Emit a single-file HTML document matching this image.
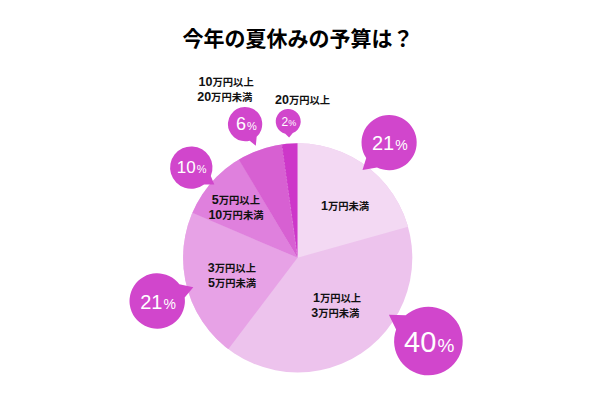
<!DOCTYPE html>
<html lang="ja"><head><meta charset="utf-8"><title>今年の夏休みの予算は？</title>
<style>
html,body{margin:0;padding:0;background:#fff;font-family:"Liberation Sans",sans-serif}
#chart{display:block;width:600px;height:400px;overflow:hidden}
</style>
</head><body>
<svg id="chart" width="600" height="400" viewBox="0 0 600 400" role="img" aria-label="今年の夏休みの予算は？">
<rect width="600" height="400" fill="#fff"/>
<defs><clipPath id="pc"><circle cx="297.7" cy="257.9" r="114.6"/></clipPath></defs>
<circle cx="297.7" cy="257.9" r="114.6" fill="#edc3ed"/>
<g clip-path="url(#pc)"><path fill="#f3d9f3" d="M297.5 257.7L297.5 140.1A117.6 117.6 0 0 1 410.75 226.02Z"/><path fill="#e7a2e6" d="M297.5 257.7L226.56 351.5A117.6 117.6 0 0 1 189.49 211.18Z"/><path fill="#df80dd" d="M297.5 257.7L189.33 211.56A117.6 117.6 0 0 1 237.46 156.58Z"/><path fill="#d760d2" d="M297.5 257.7L237.11 156.79A117.6 117.6 0 0 1 281.54 141.19Z"/><path fill="#cd37c9" d="M297.5 257.7L281.13 141.24A117.6 117.6 0 0 1 297.5 140.1Z"/><path d="M297.5 257.7L281.34 141.22" stroke="#eab0e6" stroke-width="0.45" stroke-dasharray="2.2 1.3" opacity="0.75" fill="none"/></g>
<path fill="#d146cc" d="M362.5 170.1L366.22 158.03A27.6 27.6 0 1 1 377 167.41Z"/>
<path fill="#d146cc" d="M388.9 314.8L405.63 315.35A34.3 34.3 0 1 1 396.13 329.38Z"/>
<path fill="#d146cc" d="M193.3 287.2L184.68 297.48A27.7 27.7 0 1 1 179.35 284.37Z"/>
<path fill="#d146cc" d="M214.3 184.6L204.06 184.53A21.2 21.2 0 1 1 210.81 175.88Z"/>
<path fill="#d146cc" d="M255.8 145.8L249.68 140.63A17.15 17.15 0 1 1 256.66 136.76Z"/>
<path fill="#d146cc" d="M289.1 137.4L285.24 133.64A12.5 12.5 0 1 1 292.8 133.12Z"/>
<g font-family="'Liberation Sans', 'Noto Sans CJK JP', sans-serif">
<text x="298" y="45.6" font-size="21" font-weight="bold" fill="#000" text-anchor="middle">今年の夏休みの予算は？</text>
<g fill="#111" font-size="10.3" font-weight="bold" text-anchor="start">
<text x="198.6" y="85.8"><tspan font-size="12.5">10</tspan>万円以上</text>
<text x="197.2" y="100.6"><tspan font-size="12.5">20</tspan>万円未満</text>
<text x="275" y="104.4"><tspan font-size="12.5">20</tspan>万円以上</text>
<text x="211.8" y="204"><tspan font-size="12.5">5</tspan>万円以上</text>
<text x="208.4" y="218.8"><tspan font-size="12.5">10</tspan>万円未満</text>
<text x="321" y="210"><tspan font-size="12.5">1</tspan>万円未満</text>
<text x="313" y="302.2"><tspan font-size="12.5">1</tspan>万円以上</text>
<text x="311.2" y="317"><tspan font-size="12.5">3</tspan>万円未満</text>
<text x="207.8" y="272.3"><tspan font-size="12.5">3</tspan>万円以上</text>
<text x="208" y="287.1"><tspan font-size="12.5">5</tspan>万円未満</text>
</g>
<g fill="#fff" text-anchor="middle">
<text x="389.8" y="149.8" font-size="20">21<tspan font-size="14" dx="1">%</tspan></text>
<text x="429.2" y="351.7" font-size="29">40<tspan font-size="19" dx="1">%</tspan></text>
<text x="158" y="308.8" font-size="20">21<tspan font-size="14" dx="1">%</tspan></text>
<text x="191.7" y="173.1" font-size="17">10<tspan font-size="11" dx="1">%</tspan></text>
<text x="246.5" y="129.8" font-size="18">6<tspan font-size="11" dx="1">%</tspan></text>
<text x="288.8" y="125.7" font-size="12">2<tspan font-size="9">%</tspan></text>
</g>
</g>
</svg>
</body></html>
